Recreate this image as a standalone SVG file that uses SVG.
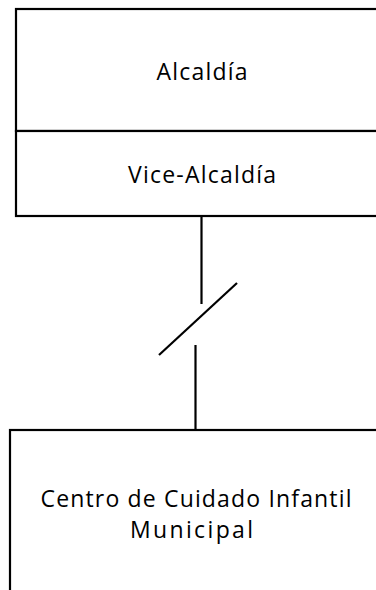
<svg xmlns="http://www.w3.org/2000/svg" width="376" height="590" viewBox="0 0 376 590">
<style>
.box{fill:#fff;stroke:#000;stroke-width:2.2}
.ln{stroke:#000;stroke-width:2.2;fill:none}
.t{font-family:"Open Sans","Liberation Sans",sans-serif;fill:#000;text-anchor:middle}
</style>
<rect width="376" height="590" fill="#fff"/>
<g id="alcaldia">
<rect class="box" x="16" y="9" width="370" height="122"/>
<text class="t" x="202" y="80" font-size="23" textLength="91" lengthAdjust="spacing">Alcaldía</text>
</g>
<g id="vice-alcaldia">
<rect class="box" x="16" y="131" width="370" height="85"/>
<text class="t" x="202" y="182.5" font-size="23" textLength="148" lengthAdjust="spacing">Vice-Alcaldía</text>
</g>
<g id="connectors">
<line class="ln" x1="201.5" y1="216" x2="201.5" y2="304"/>
<line class="ln" x1="159" y1="355" x2="237" y2="283"/>
<line class="ln" x1="195.5" y1="345" x2="195.5" y2="430"/>
</g>
<g id="centro">
<rect class="box" x="10" y="430" width="380" height="180"/>
<text class="t" x="196" y="507" font-size="23" textLength="311" lengthAdjust="spacing">Centro de Cuidado Infantil</text>
<text class="t" x="191.5" y="538" font-size="23" textLength="123" lengthAdjust="spacing">Municipal</text>
</g>
</svg>
